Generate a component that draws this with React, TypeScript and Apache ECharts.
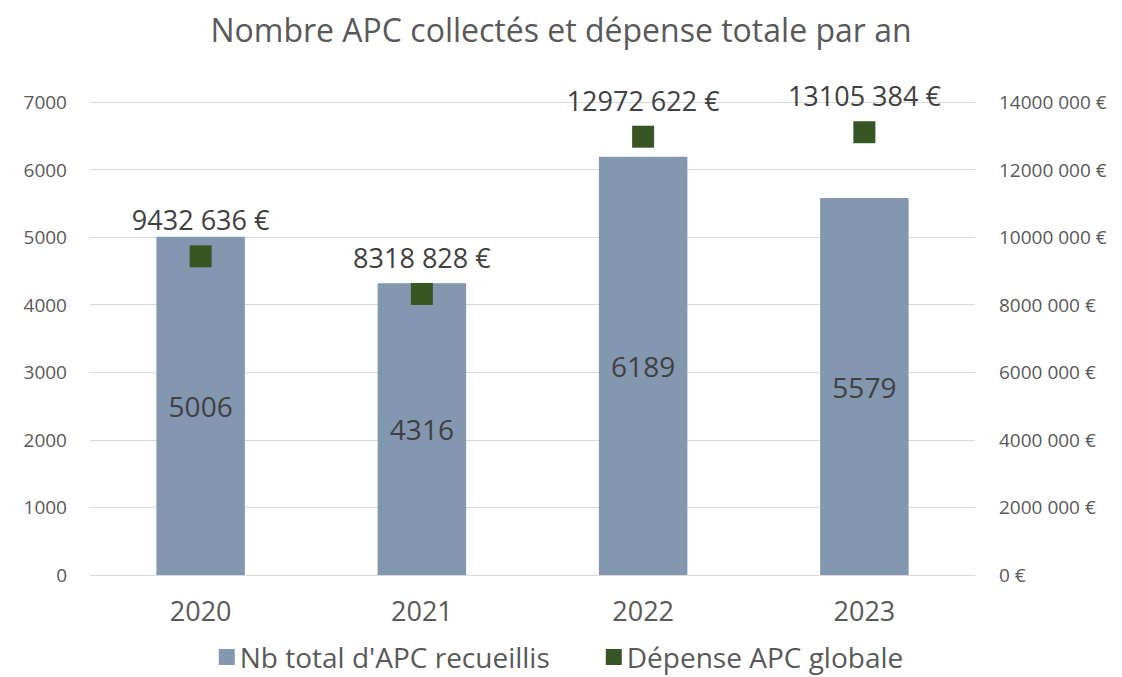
import React, { useEffect, useRef } from "react";
import * as echarts from "echarts";

const years = ["2020", "2021", "2022", "2023"];
const nbApc = [5006, 4316, 6189, 5579];
const depense = [9432636, 8318828, 12972622, 13105384];

const FONT = "'Open Sans', 'Noto Sans', sans-serif";

function fmtEuro(v: number): string {
  if (v === 0) return "0 €";
  const th = Math.floor(v / 1000);
  const rest = String(Math.round(v % 1000)).padStart(3, "0");
  return `${th} ${rest} €`;
}

export default function App() {
  const ref = useRef<HTMLDivElement>(null);
  useEffect(() => {
    const chart = echarts.init(ref.current!, null, { renderer: "svg" });
    chart.setOption({
      animation: false,
      backgroundColor: "#ffffff",
      title: {
        text: "Nombre APC collectés et dépense totale par an",
        left: "center",
        top: 8,
        textStyle: { fontFamily: FONT, fontSize: 32, fontWeight: "normal", color: "#595959" },
      },
      legend: {
        bottom: 1,
        left: "center",
        itemWidth: 16,
        itemHeight: 16,
        itemGap: 56,
        icon: "rect",
        textStyle: { fontFamily: FONT, fontSize: 28, color: "#595959" },
        data: ["Nb total d'APC recueillis", "Dépense APC globale"],
      },
      grid: { left: 90, right: 147, top: 102, bottom: 102, containLabel: false },
      xAxis: {
        type: "category",
        data: years,
        axisLine: { lineStyle: { color: "#d9d9d9", width: 1 } },
        axisTick: { show: false },
        axisLabel: { fontFamily: FONT, fontSize: 27, color: "#595959", margin: 22 },
      },
      yAxis: [
        {
          type: "value",
          min: 0,
          max: 7000,
          interval: 1000,
          axisLine: { show: false },
          axisTick: { show: false },
          splitLine: { lineStyle: { color: "#d9d9d9", width: 1 } },
          axisLabel: {
            fontFamily: FONT,
            fontSize: 19,
            color: "#595959",
            margin: 23,
            formatter: (v: number) => String(v),
          },
        },
        {
          type: "value",
          min: 0,
          max: 14000000,
          interval: 2000000,
          axisLine: { show: false },
          axisTick: { show: false },
          splitLine: { show: false },
          axisLabel: {
            fontFamily: FONT,
            fontSize: 19,
            color: "#595959",
            margin: 24,
            formatter: (v: number) => fmtEuro(v),
          },
        },
      ],
      series: [
        {
          name: "Nb total d'APC recueillis",
          type: "bar",
          data: nbApc,
          barWidth: "40%",
          itemStyle: { color: "#8497B0" },
          label: {
            show: true,
            position: "inside",
            fontFamily: FONT,
            fontSize: 28,
            color: "#404040",
          },
        },
        {
          name: "Dépense APC globale",
          type: "scatter",
          yAxisIndex: 1,
          data: depense,
          symbol: "rect",
          symbolSize: 22,
          itemStyle: { color: "#375623", opacity: 1 },
          label: {
            show: true,
            position: "top",
            distance: 12,
            fontFamily: FONT,
            fontSize: 27,
            color: "#404040",
            formatter: (p: any) => fmtEuro(p.value),
          },
        },
      ],
    });
    return () => chart.dispose();
  }, []);
  return (
    <div
      ref={ref}
      style={{ position: "fixed", left: 0, top: 0, width: 1122, height: 677 }}
    />
  );
}
